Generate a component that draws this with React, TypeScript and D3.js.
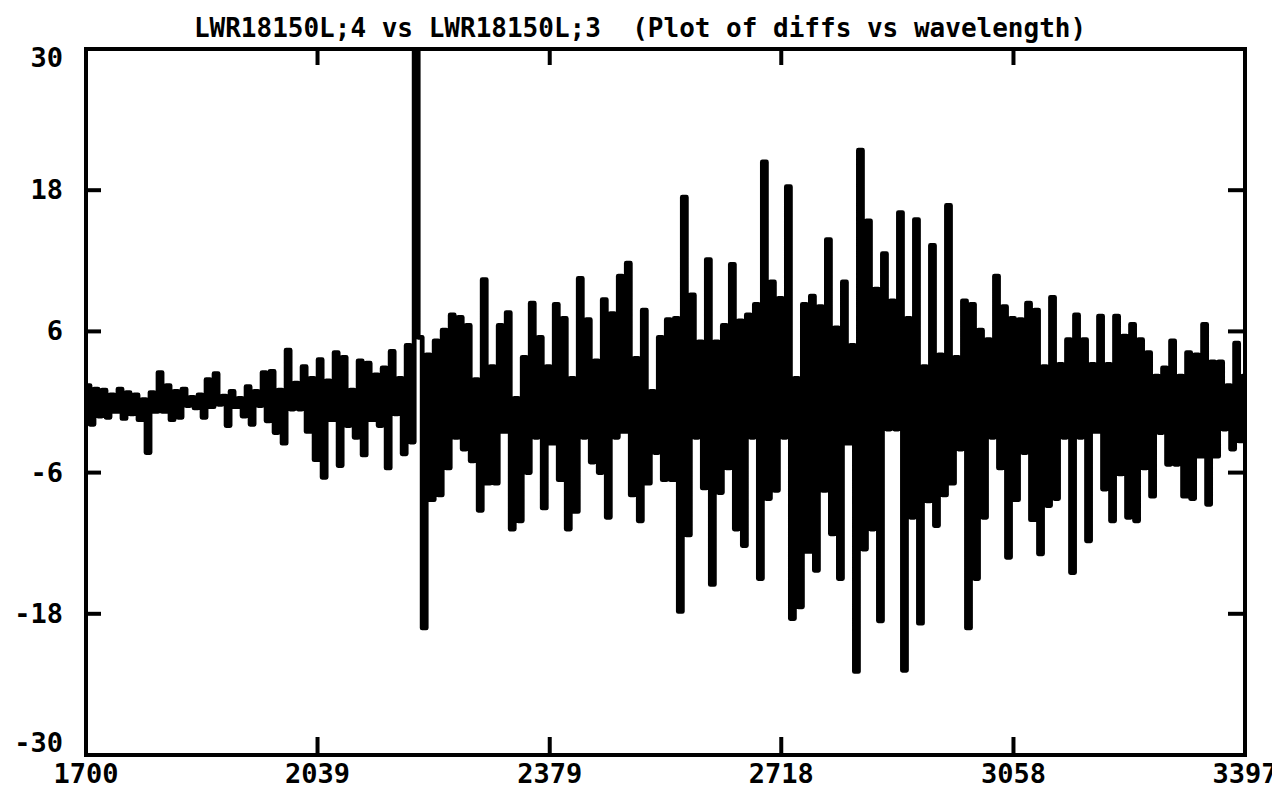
import { useEffect, useRef } from "react";
import * as d3 from "d3";

// differences (LWR18150L;4 minus LWR18150L;3) left to right
const diffs = [
  1.4, -1.9, 1.1, -1.2, 1.0, -1.3, 0.6, -0.8, 1.1, -1.4,
  0.8, -1.0, 0.6, -1.5, 0.2, -4.3, 0.8, -0.8, 2.5, -0.8,
  1.4, -1.5, 0.9, -1.3, 1.1, -0.3, 0.4, -0.5, 0.6, -1.3,
  1.9, -0.4, 2.4, -0.2, 0.5, -2.0, 0.9, -0.4, 0.3, -1.2,
  1.3, -1.9, 0.9, -0.3, 2.5, -1.6, 2.6, -2.6, 1.0, -3.5,
  4.4, -0.6, 1.6, -0.6, 3.0, -2.5, 2.0, -4.9, 3.6, -6.4,
  1.8, -1.5, 4.2, -5.4, 3.8, -2.0, 1.0, -3.0, 3.5, -4.5,
  3.3, -1.5, 2.3, -2.0, 2.9, -5.6, 4.3, -1.0, 2.0, -4.4,
  4.8, -3.4, 34, 5.5, -19.2, 4.0, -8.3, 5.2, -7.9, 6.1,
  -5.6, 7.4, -3.0, 7.2, -4.0, 6.5, -5.0, 1.9, -9.2, 10.4,
  -6.9, 3.0, -6.9, 6.5, -2.5, 7.6, -10.8, 0.3, -10.1, 3.8,
  -6.0, 8.4, -3.0, 5.5, -9.0, 3.0, -3.5, 8.3, -6.6, 7.1,
  -10.8, 2.0, -9.3, 10.5, -3.0, 7.0, -5.1, 3.5, -6.0, 8.7,
  -9.8, 7.5, -3.0, 10.7, -2.5, 11.8, -7.9, 3.7, -10.1, 7.8,
  -6.9, 0.9, -4.3, 5.5, -6.6, 7.0, -6.6, 7.1, -17.8, 17.4,
  -11.3, 9.1, -3.0, 5.1, -7.3, 12.1, -15.5, 5.1, -7.7, 6.5,
  -5.6, 11.7, -10.8, 6.9, -12.2, 7.4, -3.0, 8.3, -15.0, 20.4,
  -8.2, 10.2, -7.5, 8.8, -3.0, 18.3, -18.4, 2.0, -17.4, 8.3,
  -12.7, 9.0, -14.3, 8.1, -7.5, 13.8, -11.2, 6.3, -15.0, 10.2,
  -3.5, 4.8, -22.9, 21.4, -12.5, 15.4, -10.8, 9.6, -18.6, 12.6,
  -2.3, 8.6, -2.3, 16.1, -22.8, 7.1, -9.8, 15.5, -18.8, 3.0,
  -8.4, 13.3, -10.5, 4.0, -7.9, 16.7, -6.9, 3.8, -4.0, 8.6,
  -19.2, 8.3, -15.0, 6.1, -9.8, 5.3, -3.0, 10.7, -5.6, 8.1,
  -13.2, 7.1, -8.3, 7.0, -4.3, 8.4, -10.0, 7.8, -12.9, 3.0,
  -8.8, 8.9, -8.2, 3.2, -3.0, 5.3, -14.5, 7.4, -3.0, 5.3,
  -11.8, 3.2, -2.5, 7.3, -7.4, 3.2, -10.1, 7.3, -6.1, 5.6,
  -9.8, 6.6, -10.1, 5.3, -5.6, 4.2, -8.0, 2.2, -2.6, 2.9,
  -5.3, 5.2, -5.3, 2.2, -8.0, 4.2, -8.2, 4.0, -4.6, 6.6,
  -8.7, 3.4, -4.6, 3.4, -2.3, 1.4, -4.0, 5.0, -3.3, 2.2,
];
const WAVE_START = 1700;
const WAVE_STEP = 5.86;

const xTickValues = [1700, 2039, 2379, 2718, 3058, 3397];
const yTickValues = [30, 18, 6, -6, -18, -30];
const titleText = "LWR18150L;4 vs LWR18150L;3  (Plot of diffs vs wavelength)";

export default function App() {
  const svgRef = useRef<SVGSVGElement>(null);

  useEffect(() => {
    const width = 1272;
    const height = 803;
    const margin = { top: 49, right: 27, bottom: 48, left: 86 };
    const font = "'DejaVu Sans Mono', 'Liberation Mono', monospace";

    const svg = d3.select(svgRef.current);
    svg.selectAll("*").remove();

    const x = d3.scaleLinear()
      .domain([1700, 3397])
      .range([margin.left, width - margin.right]);
    const y = d3.scaleLinear()
      .domain([-30, 30])
      .range([height - margin.bottom, margin.top]);

    const x0 = x.range()[0], x1 = x.range()[1];
    const yTop = y.range()[1], yBot = y.range()[0];

    svg.append("rect").attr("width", width).attr("height", height).attr("fill", "#fff");

    // title
    svg.append("text")
      .attr("x", 640)
      .attr("y", 37)
      .attr("text-anchor", "middle")
      .style("white-space", "pre")
      .attr("font-family", font)
      .attr("font-weight", "bold")
      .attr("font-size", 26)
      .text(titleText);

    svg.append("clipPath").attr("id", "plotArea")
      .append("rect")
      .attr("x", x0).attr("y", yTop)
      .attr("width", x1 - x0).attr("height", yBot - yTop);

    const line = d3.line<number>()
      .x((_, i) => x(WAVE_START + i * WAVE_STEP))
      .y(d => y(d))
      .curve(d3.curveStepAfter);

    svg.append("path")
      .datum(diffs)
      .attr("clip-path", "url(#plotArea)")
      .attr("fill", "none")
      .attr("stroke", "#000")
      .attr("stroke-width", 4.8)
      .attr("stroke-linejoin", "round")
      .attr("stroke-linecap", "round")
      .attr("d", line);

    // frame
    svg.append("rect")
      .attr("x", x0).attr("y", yTop)
      .attr("width", x1 - x0).attr("height", yBot - yTop)
      .attr("fill", "none")
      .attr("stroke", "#000")
      .attr("stroke-width", 4);

    const ticks = svg.append("g").attr("stroke", "#000").attr("stroke-width", 4);
    const innerY = yTickValues.filter(v => v !== 30 && v !== -30);
    innerY.forEach(v => {
      ticks.append("line").attr("x1", x0).attr("x2", x0 + 15).attr("y1", y(v)).attr("y2", y(v));
      ticks.append("line").attr("x1", x1).attr("x2", x1 - 17).attr("y1", y(v)).attr("y2", y(v));
    });
    const innerX = xTickValues.slice(1, -1);
    innerX.forEach(v => {
      ticks.append("line").attr("x1", x(v)).attr("x2", x(v)).attr("y1", yBot).attr("y2", yBot - 18);
      ticks.append("line").attr("x1", x(v)).attr("x2", x(v)).attr("y1", yTop).attr("y2", yTop + 16);
    });

    const labels = svg.append("g")
      .attr("font-family", font)
      .attr("font-weight", "bold")
      .attr("font-size", 27);

    yTickValues.forEach(v => {
      let yy = y(v) + 9;
      if (v === 30) yy = y(v) + 18;
      if (v === -30) yy = y(v) - 3;
      labels.append("text")
        .attr("x", 63)
        .attr("y", yy)
        .attr("text-anchor", "end")
        .text(String(v));
    });

    xTickValues.forEach(v => {
      labels.append("text")
        .attr("x", x(v))
        .attr("y", 783)
        .attr("text-anchor", "middle")
        .text(String(v));
    });
  }, []);

  return (
    <svg
      ref={svgRef}
      width={1272}
      height={803}
      style={{ position: "absolute", left: 0, top: 0 }}
    ></svg>
  );
}
